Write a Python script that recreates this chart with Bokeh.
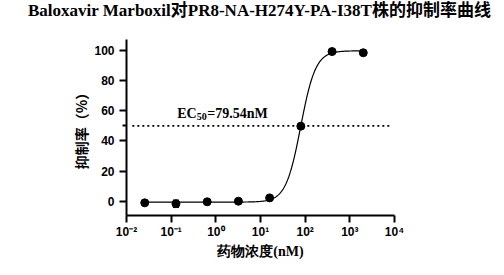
import numpy as np
from bokeh.plotting import figure
from bokeh.layouts import column
from bokeh.models import (ColumnDataSource, Whisker, TeeHead, FixedTicker,
                          CustomJSTickFormatter, Label, Range1d, Div)
from bokeh.embed import file_html
from bokeh.resources import INLINE

# ---------------- data ----------------
title_text = "Baloxavir Marboxil对PR8-NA-H274Y-PA-I38T株的抑制率曲线"
x_label = "药物浓度(nM)"
y_label = "抑制率（%）"

conc = [0.0256, 0.128, 0.64, 3.2, 16, 80, 400, 2000]          # nM
inhib = [-1.1, -1.7, -0.4, 0.0, 2.2, 49.8, 99.3, 98.5]         # %
sd = [0.6, 2.3, 0.5, 0.4, 0.8, 1.0, 0.6, 0.5]                  # %

# four-parameter logistic fit
ec50 = 79.54
fit_bottom = -0.6
fit_top = 99.8
fit_hill = 2.6

x_ticks = [0.01, 0.1, 1, 10, 100, 1000, 10000]
y_ticks = [0, 20, 40, 60, 80, 100]
y_minor_ticks = [50]

half_level = 50
half_line_x = [0.0135, 8000]
ec_label_pos = (0.137, 58.0)

# ---------------- fonts ----------------
serif = "Liberation Serif"
sans = "Liberation Sans"
cjk_sans = "Noto Sans CJK SC"

# ---------------- title strip ----------------
TITLE_H = 30
title = Div(text=title_text, width=504, height=TITLE_H, margin=0,
            styles={"font-family": "'Liberation Serif', 'Noto Sans CJK SC', serif",
                    "font-weight": "bold", "font-size": "17px",
                    "line-height": "20px", "color": "black",
                    "text-align": "center", "white-space": "nowrap",
                    "padding-top": "1px", "padding-left": "15px",
                    "box-sizing": "border-box", "width": "504px"})

# ---------------- main plot ----------------
p = figure(width=504, height=275 - TITLE_H, x_axis_type="log",
           x_range=Range1d(0.01, 10000), y_range=Range1d(-9.49, 107.3),
           output_backend="svg", toolbar_location=None,
           min_border_left=126, min_border_right=110,
           min_border_top=39 - TITLE_H, min_border_bottom=60)
p.outline_line_color = None
p.grid.visible = False
p.background_fill_color = "white"
p.border_fill_color = "white"

for ax in (p.xaxis[0], p.yaxis[0]):
    ax.axis_line_width = 2
    ax.axis_line_color = "black"
    ax.major_tick_line_width = 2
    ax.major_tick_line_color = "black"
    ax.major_tick_out = 7
    ax.major_tick_in = 0
    ax.major_label_text_font = sans
    ax.major_label_text_font_style = "bold"
    ax.major_label_text_font_size = "12px"
    ax.major_label_text_color = "black"
    ax.axis_label_text_color = "black"
    ax.axis_label_text_font_style = "bold"
    ax.axis_label_text_font_size = "14px"

p.xaxis.ticker = FixedTicker(ticks=x_ticks, minor_ticks=[])
p.xaxis.minor_tick_line_color = None
p.xaxis.major_label_standoff = 2
p.xaxis.axis_label = x_label
p.xaxis.axis_label_text_font = serif
p.xaxis.axis_label_standoff = 2
p.xaxis.formatter = CustomJSTickFormatter(code="""
const e = Math.round(Math.log10(tick));
const sup = {'-':'\u207b','0':'\u2070','1':'\u00b9','2':'\u00b2','3':'\u00b3','4':'\u2074',
             '5':'\u2075','6':'\u2076','7':'\u2077','8':'\u2078','9':'\u2079'};
return '10' + String(e).split('').map(c => sup[c]).join('');
""")

p.yaxis.ticker = FixedTicker(ticks=y_ticks, minor_ticks=y_minor_ticks)
p.yaxis.minor_tick_line_width = 2
p.yaxis.minor_tick_line_color = "black"
p.yaxis.minor_tick_out = 4
p.yaxis.minor_tick_in = 0
p.yaxis.major_label_standoff = 5
p.yaxis.axis_label = y_label
p.yaxis.axis_label_text_font = cjk_sans
p.yaxis.axis_label_standoff = 0

# fitted curve
xs = np.logspace(np.log10(conc[0]), np.log10(conc[-1]), 400)
ys = fit_bottom + (fit_top - fit_bottom) / (1.0 + (ec50 / xs) ** fit_hill)
p.line(xs, ys, line_color="black", line_width=1.2)

# 50% reference line
p.line(half_line_x, [half_level, half_level], line_color="black",
       line_width=1.6, line_dash="2 3")

# data with error bars
src = ColumnDataSource(dict(x=conc, y=inhib,
                            lo=[v - s for v, s in zip(inhib, sd)],
                            hi=[v + s for v, s in zip(inhib, sd)]))
p.add_layout(Whisker(base="x", lower="lo", upper="hi", source=src,
                     line_color="black", line_width=1.5,
                     upper_head=TeeHead(size=6, line_width=1.5),
                     lower_head=TeeHead(size=6, line_width=1.5)))
p.scatter("x", "y", source=src, size=8, color="black")

# EC50 label with subscript
ex, ey = ec_label_pos
p.add_layout(Label(x=ex, y=ey, text="EC", text_font=serif,
                   text_font_style="bold", text_font_size="14px",
                   text_baseline="alphabetic", text_color="black"))
p.add_layout(Label(x=ex, y=ey, x_offset=19.5, y_offset=-3, text="50",
                   text_font=serif, text_font_style="bold",
                   text_font_size="10px", text_baseline="alphabetic",
                   text_color="black"))
p.add_layout(Label(x=ex, y=ey, x_offset=30, text="=79.54nM",
                   text_font=serif, text_font_style="bold",
                   text_font_size="14px", text_baseline="alphabetic",
                   text_color="black"))

layout = column(title, p, spacing=0)
open("out.html", "w").write(file_html(layout, INLINE))
